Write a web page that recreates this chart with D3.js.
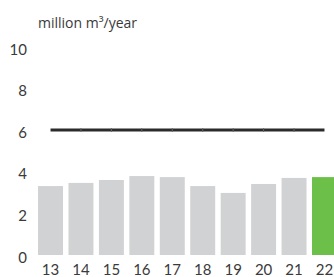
<!DOCTYPE html>
<html>
<head>
<meta charset="utf-8">
<script src="https://cdn.jsdelivr.net/npm/d3@7"></script>
<style>
  html, body { margin: 0; padding: 0; background: #fff; }
  svg { display: block; }
</style>
</head>
<body>
<svg id="chart" width="334" height="277"></svg>
<script>
const years = ['13', '14', '15', '16', '17', '18', '19', '20', '21', '22'];
const volumes = [3.31, 3.46, 3.6, 3.79, 3.74, 3.31, 2.98, 3.41, 3.7, 3.74];
const capacity = [6, 6, 6, 6, 6, 6, 6, 6, 6, 6];
const yTicks = [0, 2, 4, 6, 8, 10];
const unitLabel = 'million m³/year';

const width = 334, height = 277;
const baseline = 255;

const xScale = d3.scaleBand()
    .domain(years)
    .range([35.3, 339.7])
    .paddingInner(0.18)
    .paddingOuter(0.09);

const yScale = d3.scaleLinear()
    .domain([0, 10])
    .range([baseline, baseline - 208.3]);

const svg = d3.select('#chart');
const font = 'Lato, "Open Sans", sans-serif';

// Bars, the last year highlighted
svg.append('g')
    .selectAll('rect')
    .data(volumes)
    .join('rect')
    .attr('x', (d, i) => xScale(years[i]))
    .attr('y', (d) => yScale(d))
    .attr('width', xScale.bandwidth())
    .attr('height', (d) => baseline - yScale(d))
    .attr('fill', (d, i) => i === years.length - 1 ? '#6cc04a' : '#d1d2d4');

// Capacity line
const line = d3.line()
    .x((d, i) => xScale(years[i]) + xScale.bandwidth() / 2)
    .y((d) => yScale(d));

svg.append('path')
    .attr('d', line(capacity))
    .attr('fill', 'none')
    .attr('stroke', '#2b2b2b')
    .attr('stroke-width', 3);

svg.append('g')
    .selectAll('line')
    .data(capacity.slice(1, -1))
    .join('line')
    .attr('x1', (d, i) => xScale(years[i + 1]) + xScale.bandwidth() / 2)
    .attr('x2', (d, i) => xScale(years[i + 1]) + xScale.bandwidth() / 2)
    .attr('y1', (d) => yScale(d) - 2)
    .attr('y2', (d) => yScale(d) + 2)
    .attr('stroke', '#666')
    .attr('stroke-width', 1);

// Y labels
const yAxis = d3.axisLeft(yScale)
    .tickValues(yTicks)
    .tickSize(0)
    .tickPadding(0);
const yAxisGroup = svg.append('g')
    .attr('transform', 'translate(27,2.5)')
    .call(yAxis);
yAxisGroup.select('.domain').remove();
yAxisGroup.selectAll('text')
    .attr('fill', '#3a3a3a')
    .attr('font-family', font)
    .attr('font-size', '15px');

// X labels
const xAxis = d3.axisBottom(xScale)
    .tickSize(0)
    .tickPadding(0);
const xAxisGroup = svg.append('g')
    .attr('transform', `translate(0,${baseline + 9.5})`)
    .call(xAxis);
xAxisGroup.select('.domain').remove();
xAxisGroup.selectAll('text')
    .attr('fill', '#3a3a3a')
    .attr('font-family', font)
    .attr('font-size', '15px');

// Unit label
svg.append('text')
    .attr('x', 38)
    .attr('y', 28)
    .attr('fill', '#3a3a3a')
    .attr('font-family', '"Open Sans", sans-serif')
    .attr('font-size', '14px')
    .text(unitLabel);
</script>
</body>
</html>
